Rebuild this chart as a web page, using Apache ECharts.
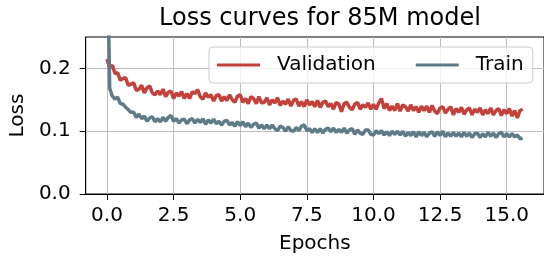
<!DOCTYPE html>
<html>
<head>
<meta charset="utf-8">
<script src="https://cdn.jsdelivr.net/npm/echarts@6/dist/echarts.min.js"></script>
<style>
  html, body { margin: 0; padding: 0; background: #fff; }
  #chart { width: 544px; height: 261px; }
</style>
</head>
<body>
<div id="chart"></div>
<script>
// logged every 0.1 epoch, starting at epoch 0
const epochStep = 0.1;

const valLoss = [
  0.215, 0.201, 0.205, 0.192, 0.193, 0.181, 0.184, 0.185, 0.173, 0.175,
  0.177, 0.165, 0.167, 0.173, 0.161, 0.169, 0.172, 0.161, 0.158, 0.164,
  0.158, 0.167, 0.155, 0.162, 0.164, 0.152, 0.161, 0.156, 0.163, 0.152,
  0.160, 0.152, 0.163, 0.160, 0.166, 0.155, 0.151, 0.161, 0.154, 0.158,
  0.148, 0.157, 0.158, 0.148, 0.155, 0.149, 0.158, 0.150, 0.146, 0.156,
  0.158, 0.146, 0.152, 0.144, 0.155, 0.152, 0.144, 0.155, 0.145, 0.146,
  0.153, 0.142, 0.150, 0.145, 0.153, 0.141, 0.148, 0.143, 0.151, 0.140,
  0.149, 0.151, 0.140, 0.147, 0.139, 0.150, 0.142, 0.147, 0.139, 0.149,
  0.138, 0.146, 0.148, 0.139, 0.144, 0.135, 0.146, 0.143, 0.131, 0.144,
  0.146, 0.138, 0.134, 0.143, 0.146, 0.135, 0.142, 0.138, 0.145, 0.135,
  0.143, 0.135, 0.145, 0.152, 0.136, 0.144, 0.133, 0.140, 0.133, 0.144,
  0.132, 0.142, 0.139, 0.132, 0.142, 0.133, 0.139, 0.130, 0.140, 0.133,
  0.140, 0.130, 0.141, 0.132, 0.128, 0.137, 0.139, 0.129, 0.135, 0.139,
  0.126, 0.136, 0.130, 0.138, 0.127, 0.134, 0.137, 0.126, 0.135, 0.130,
  0.137, 0.126, 0.134, 0.128, 0.137, 0.126, 0.133, 0.136, 0.125, 0.134,
  0.128, 0.136, 0.124, 0.133, 0.121, 0.133, 0.135
];

const trainLoss = [
  0.420, 0.168, 0.156, 0.151, 0.154, 0.144, 0.143, 0.138, 0.134, 0.130,
  0.130, 0.122, 0.127, 0.120, 0.124, 0.116, 0.121, 0.123, 0.115, 0.120,
  0.115, 0.122, 0.116, 0.122, 0.125, 0.116, 0.120, 0.113, 0.118, 0.119,
  0.112, 0.118, 0.120, 0.113, 0.119, 0.114, 0.120, 0.111, 0.118, 0.113,
  0.119, 0.112, 0.116, 0.110, 0.116, 0.117, 0.110, 0.114, 0.108, 0.115,
  0.109, 0.115, 0.107, 0.113, 0.106, 0.111, 0.113, 0.105, 0.110, 0.104,
  0.110, 0.104, 0.110, 0.104, 0.101, 0.108, 0.106, 0.100, 0.107, 0.101,
  0.100, 0.106, 0.101, 0.108, 0.110, 0.101, 0.104, 0.098, 0.104, 0.098,
  0.104, 0.097, 0.103, 0.105, 0.099, 0.105, 0.098, 0.103, 0.098, 0.105,
  0.097, 0.102, 0.104, 0.095, 0.102, 0.097, 0.095, 0.102, 0.102, 0.095,
  0.094, 0.101, 0.096, 0.101, 0.094, 0.099, 0.093, 0.100, 0.095, 0.100,
  0.094, 0.100, 0.092, 0.098, 0.093, 0.099, 0.091, 0.099, 0.093, 0.098,
  0.091, 0.097, 0.099, 0.092, 0.099, 0.093, 0.100, 0.091, 0.097, 0.092,
  0.098, 0.092, 0.097, 0.091, 0.098, 0.092, 0.097, 0.090, 0.096, 0.097,
  0.090, 0.096, 0.091, 0.098, 0.092, 0.097, 0.090, 0.096, 0.098, 0.091,
  0.096, 0.091, 0.096, 0.091, 0.094, 0.088, 0.089
];

const xTicks = [0, 2.5, 5, 7.5, 10, 12.5, 15];
const yTicks = [0, 0.1, 0.2];

const FONT = 'DejaVu Sans';

// 把数据转成 [epoch, loss]
function toPoints(values) {
  return values.map((v, i) => [+(i * epochStep).toFixed(2), v]);
}

const chart = echarts.init(document.getElementById('chart'), null, { renderer: 'canvas' });

const option = {
  animation: false,
  backgroundColor: '#fff',
  textStyle: { fontFamily: FONT },
  title: {
    text: 'Loss curves for 85M model',
    left: 315,
    textAlign: 'center',
    top: 2,
    textStyle: { fontFamily: FONT, fontSize: 24, fontWeight: 'normal', color: '#000' }
  },
  legend: {
    left: 209,
    top: 47,
    padding: [8, 9, 8, 8],
    itemGap: 40,
    itemWidth: 43,
    itemHeight: 3,
    icon: 'rect',
    backgroundColor: 'rgba(255,255,255,0.8)',
    borderColor: '#cccccc',
    borderWidth: 1,
    borderRadius: 4,
    textStyle: { fontFamily: FONT, fontSize: 20, color: '#000', padding: [0, 0, 0, 12] },
    data: ['Validation', 'Train']
  },
  grid: {
    left: 83,
    top: 37,
    right: -3,
    bottom: 67,
    show: true,
    borderColor: '#000',
    borderWidth: 1,
    backgroundColor: 'transparent'
  },
  xAxis: {
    type: 'value',
    min: -0.8,
    max: 16.4,
    name: 'Epochs',
    nameLocation: 'middle',
    nameGap: 40,
    nameTextStyle: { fontFamily: FONT, fontSize: 20, color: '#000' },
    axisLine: { show: true, onZero: false, lineStyle: { color: '#000', width: 1 } },
    axisTick: { show: true, length: 6, lineStyle: { color: '#000' }, customValues: xTicks },
    axisLabel: {
      customValues: xTicks,
      margin: 12,
      fontFamily: FONT,
      fontSize: 20,
      color: '#000',
      formatter: v => v.toFixed(1)
    },
    splitLine: { show: true, lineStyle: { color: '#bdbdbd', width: 1 } }
  },
  yAxis: {
    type: 'value',
    min: 0,
    max: 0.25,
    name: 'Loss',
    nameLocation: 'middle',
    nameGap: 57,
    nameTextStyle: { fontFamily: FONT, fontSize: 20, color: '#000' },
    axisLine: { show: true, onZero: false, lineStyle: { color: '#000', width: 1 } },
    axisTick: { show: true, length: 6, lineStyle: { color: '#000' }, customValues: yTicks },
    axisLabel: {
      customValues: yTicks,
      margin: 15,
      fontFamily: FONT,
      fontSize: 20,
      color: '#000',
      formatter: v => v.toFixed(1)
    },
    splitLine: { show: true, lineStyle: { color: '#bdbdbd', width: 1 } }
  },
  series: [
    {
      name: 'Validation',
      type: 'line',
      data: toPoints(valLoss),
      showSymbol: false,
      lineStyle: { color: '#c4403a', width: 3.5 },
      itemStyle: { color: '#c4403a' }
    },
    {
      name: 'Train',
      type: 'line',
      data: toPoints(trainLoss),
      showSymbol: false,
      lineStyle: { color: '#607b88', width: 3.5 },
      itemStyle: { color: '#607b88' }
    }
  ]
};

chart.setOption(option);
</script>
</body>
</html>
